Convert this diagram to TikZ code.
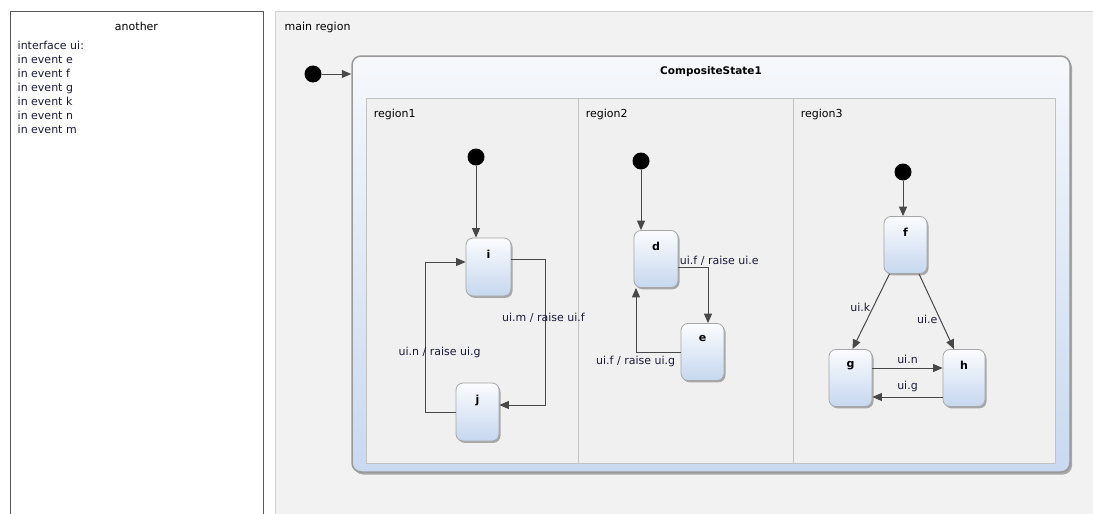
\documentclass[tikz,border=0pt]{standalone}
\usepackage{fontspec}
\setsansfont{DejaVu Sans}
\usetikzlibrary{shadows,arrows.meta}
\definecolor{stTop}{HTML}{FBFCFE}
\definecolor{stBot}{HTML}{C6D7EF}
\definecolor{csTop}{HTML}{F6F8FB}
\definecolor{csBot}{HTML}{C9D9F0}
\definecolor{regFill}{HTML}{F0F0F0}
\definecolor{regLine}{HTML}{C2C2C2}
\definecolor{mainFill}{HTML}{F2F2F2}
\definecolor{mainLine}{HTML}{D2D2D2}
\definecolor{lblCol}{HTML}{1A1A3C}
\definecolor{arrCol}{HTML}{484848}
\tikzset{
  statebox/.style={draw=black!35, line width=0.8pt, rounded corners=7pt,
    top color=stTop, bottom color=stBot, minimum width=44pt, minimum height=57pt,
    inner sep=0pt,
    drop shadow={shadow xshift=1.5pt, shadow yshift=-1.8pt, opacity=.3, fill=black}},
  stname/.style={anchor=north, inner sep=0pt, yshift=-12pt, font=\sffamily\bfseries\fontsize{11}{13}\selectfont, text=black},
  initdot/.style={circle, fill=black, minimum size=17pt, inner sep=0pt},
  tr/.style={draw=arrCol, line width=1pt, -{Triangle[length=9.5pt,width=8pt]}},
  lbl/.style={text=lblCol, inner sep=1pt},
  regbox/.style={draw=regLine, fill=regFill, line width=0.8pt, minimum height=365pt, inner sep=0pt},
  regname/.style={anchor=north west, inner sep=0pt, xshift=8pt, yshift=-11pt, text=black},
}
\begin{document}
\begin{tikzpicture}[x=1pt,y=-1pt, font=\sffamily\fontsize{11}{14}\selectfont]
\useasboundingbox (0,0) rectangle (1093,514);
\clip (0,0) rectangle (1093,514);
\fill[white] (0,0) rectangle (1093,514);

% left box
\node[draw=black!65, line width=1pt, fill=white, minimum width=253pt, minimum height=520pt, inner sep=0pt,
  label={[anchor=north, inner sep=0pt, yshift=-11pt]north:another},
  label={[anchor=north west, inner sep=0pt, xshift=8pt, yshift=-30pt, align=left, text=lblCol]north west:interface ui:\\in event e\\in event f\\in event g\\in event k\\in event n\\in event m}
] (another) at (136.5,271) {};

% main region
\node[draw=mainLine, fill=mainFill, line width=1pt, minimum width=830pt, minimum height=520pt, inner sep=0pt,
  label={[anchor=north west, inner sep=0pt, xshift=10pt, yshift=-11pt]north west:main region}
] (mainreg) at (690,271) {};

% composite state
\node[draw=black!40, line width=1.5pt, rounded corners=9pt, top color=csTop, bottom color=csBot,
  minimum width=718pt, minimum height=416pt, inner sep=0pt,
  drop shadow={shadow xshift=2pt, shadow yshift=-2.5pt, opacity=.3, fill=black},
  label={[anchor=north, inner sep=0pt, yshift=-11pt, font=\sffamily\bfseries\fontsize{10.5}{13}\selectfont]north:CompositeState1}
] (cs) at (711,264) {};

\node[initdot] (in0) at (313,74) {};
\draw[tr] (in0) -- (in0 -| cs.west);

% regions
\node[regbox, minimum width=212pt, label={[regname]north west:region1}] (r1) at (472,280.5) {};
\node[regbox, minimum width=215pt, label={[regname]north west:region2}] (r2) at (685.5,280.5) {};
\node[regbox, minimum width=262pt, label={[regname]north west:region3}] (r3) at (924,280.5) {};

% region1
\node[initdot] (in1) at (476,157) {};
\node[statebox, minimum width=45pt, minimum height=58pt, label={[stname]north:i}] (i) at (488.5,267) {};
\node[statebox, minimum width=43pt, minimum height=58pt, label={[stname]north:j}] (j) at (477.5,412) {};
\draw[tr] (in1) -- (in1 |- i.north);
\draw[tr] ([yshift=8pt]i.east) -- ++(34,0) |- node[lbl, pos=0.2, xshift=-2pt]{ui.m / raise ui.f} ([yshift=7pt]j.east);
\draw[tr] (j.west) -- ++(-30,0) |- node[lbl, pos=0.2, xshift=14pt]{ui.n / raise ui.g} ([yshift=5pt]i.west);

% region2
\node[initdot] (in2) at (641,161) {};
\node[statebox, label={[stname]north:d}] (d) at (656,259) {};
\node[statebox, minimum width=43pt, label={[stname]north:e}] (e) at (702.5,352) {};
\draw[tr] (in2) -- (in2 |- d.north);
\draw[tr] ([yshift=-8pt]d.east) -| node[lbl, pos=0, anchor=south west]{ui.f / raise ui.e} ([xshift=5.5pt]e.north);
\draw[tr] (e.west) -| node[lbl, pos=0, anchor=north east, xshift=-4pt, yshift=-3pt]{ui.f / raise ui.g} ([xshift=-20pt]d.south);

% region3
\node[initdot] (in3) at (903,172) {};
\node[statebox, minimum width=43pt, label={[stname]north:f}] (f) at (905.5,245) {};
\node[statebox, minimum width=43pt, label={[stname]north:g}] (g) at (850.5,378) {};
\node[statebox, minimum width=42pt, label={[stname]north:h}] (h) at (964,378) {};
\draw[tr] (in3) -- (in3 |- f.north);
\draw[tr] ([xshift=-16pt]f.south) -- node[lbl, pos=0.45, anchor=east, xshift=-1pt]{ui.k} ([xshift=2pt]g.north);
\draw[tr] ([xshift=13.5pt]f.south) -- node[lbl, pos=0.6, anchor=east, xshift=-1pt]{ui.e} ([xshift=-10pt]h.north);
\draw[tr] ([yshift=10pt]g.east) -- node[lbl, above, yshift=3pt]{ui.n} ([yshift=10pt]h.west);
\draw[tr] ([yshift=-19pt]h.west) -- node[lbl, above, yshift=4pt]{ui.g} ([yshift=-19pt]g.east);
\end{tikzpicture}
\end{document}
